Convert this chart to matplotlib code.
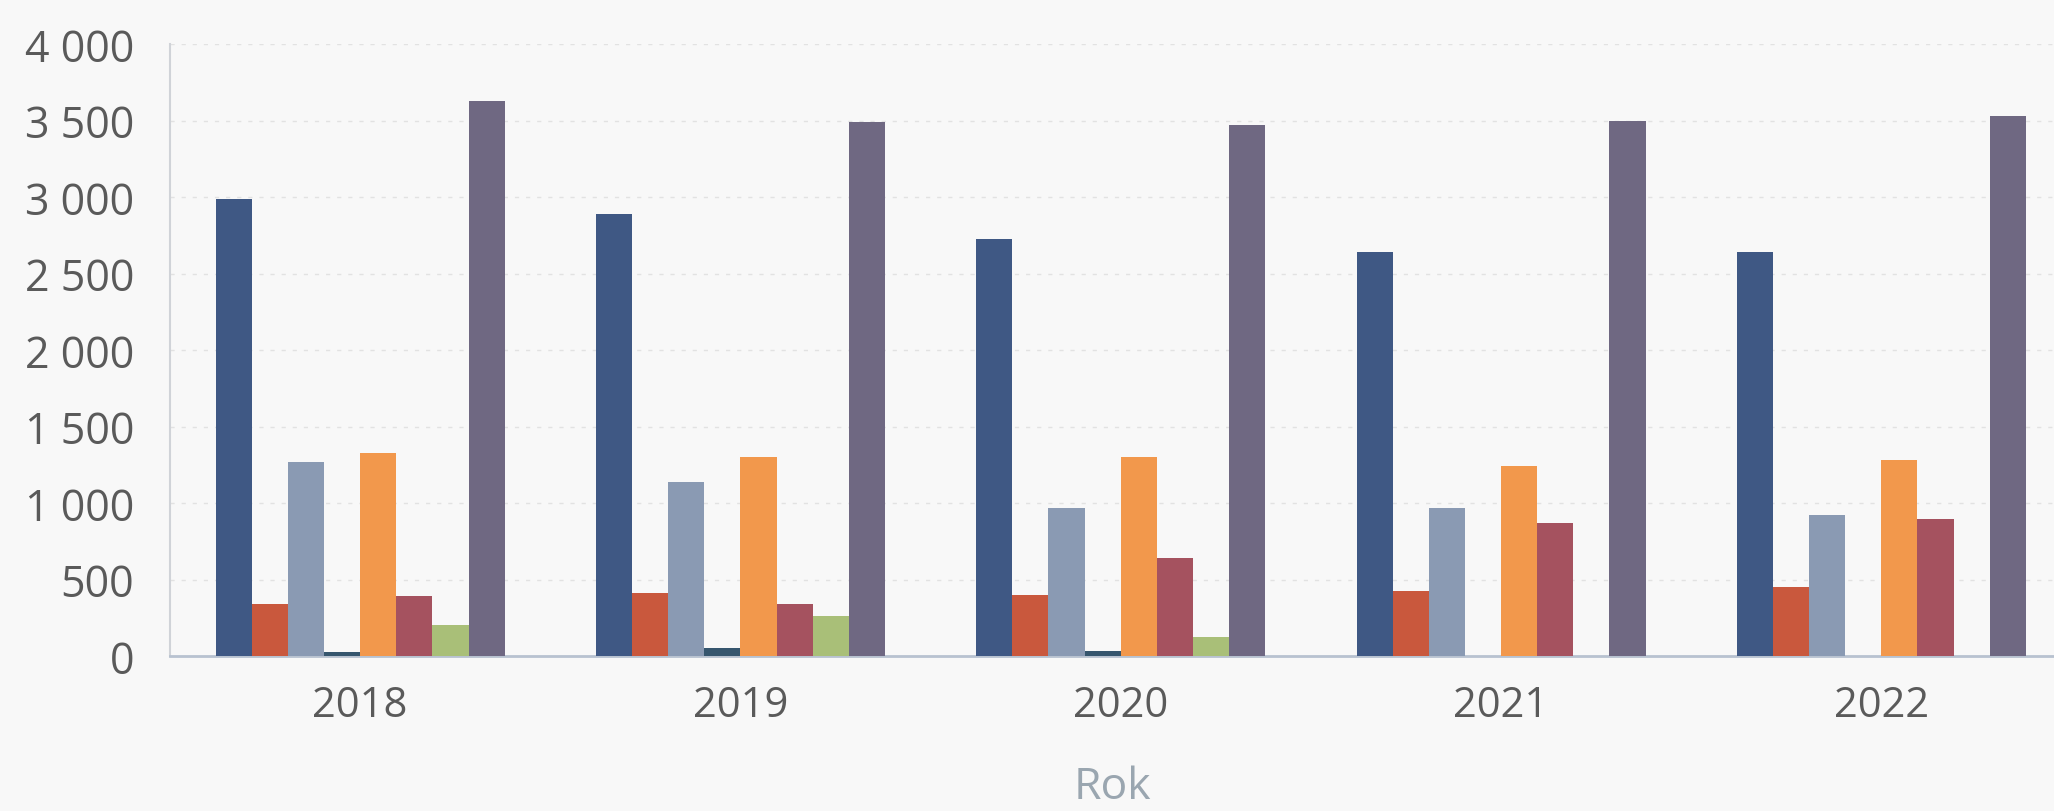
import matplotlib
matplotlib.use("Agg")
import matplotlib.pyplot as plt
import numpy as np

years = ["2018", "2019", "2020", "2021", "2022"]
s1 = [2990, 2890, 2725, 2640, 2640]   # dark blue
s2 = [340, 415, 400, 425, 450]        # red
s3 = [1265, 1135, 970, 970, 920]      # grey-blue
s4 = [25, 55, 35, 0, 0]               # dark teal (tiny)
s5 = [1325, 1300, 1300, 1245, 1280]   # orange
s6 = [390, 340, 640, 870, 895]        # maroon
s7 = [200, 260, 125, 0, 0]            # green
s8 = [3625, 3490, 3470, 3500, 3530]   # purple-grey
series = [s1, s2, s3, s4, s5, s6, s7, s8]
colors = ["#3f5884", "#c9583d", "#8a9ab3", "#36566e", "#f2984c", "#a5525f", "#a9bf78", "#6f6882"]
yticks = [0, 500, 1000, 1500, 2000, 2500, 3000, 3500, 4000]
ytick_labels = ["0", "500", "1 000", "1 500", "2 000", "2 500", "3 000", "3 500", "4 000"]

plt.rcParams['font.family'] = ['Open Sans', 'DejaVu Sans']
bg = "#f8f8f8"
fig = plt.figure(figsize=(20.54, 8.12), dpi=100, facecolor=bg)
ax = fig.add_axes([170/2054, 1-657/812, 1-170/2054, (657-45)/812])
ax.set_facecolor(bg)

x = np.arange(len(years))
w = 0.095
n = len(series)
for i, (vals, c) in enumerate(zip(series, colors)):
    ax.bar(x + (i - (n-1)/2) * w, vals, width=w, color=c, linewidth=0, zorder=3)

ax.set_xlim(-0.5, 4.454)
ax.set_ylim(0, 4000)
ax.set_yticks(yticks)
ax.set_yticklabels(ytick_labels)
ax.set_xticks(x)
ax.set_xticklabels(years)
ax.tick_params(axis='y', length=0, pad=26, labelsize=31, labelcolor="#5a5a5a")
ax.tick_params(axis='x', length=0, pad=20, labelsize=30, labelcolor="#5a5a5a")
ax.grid(axis='y', color="#e2e2e2", linestyle=(0, (3, 5)), linewidth=1.0, zorder=0)
for s in ["top", "right"]:
    ax.spines[s].set_visible(False)
ax.spines["left"].set_color("#d0d3d8")
ax.spines["left"].set_linewidth(1.5)
ax.spines["bottom"].set_color("#b8c2d0")
ax.spines["bottom"].set_linewidth(2)
ax.set_xlabel("Rok", fontsize=32, color="#9aa6b0", labelpad=28)

fig.savefig("out.png", dpi=100, facecolor=bg)
